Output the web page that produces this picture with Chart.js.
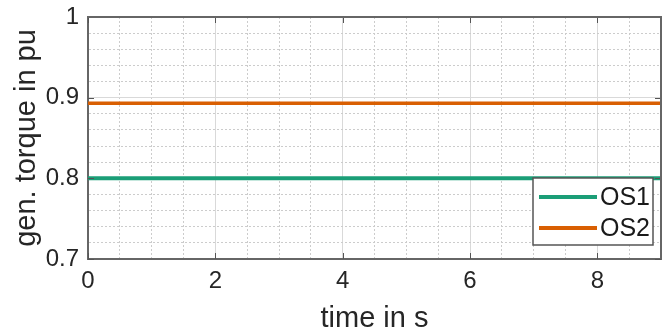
<!DOCTYPE html>
<html>
<head>
<meta charset="utf-8">
<script src="https://cdn.jsdelivr.net/npm/chart.js@4.4.1/dist/chart.umd.min.js"></script>
<style>
  html, body { margin: 0; padding: 0; background: #fff; }
  #wrap { width: 662px; height: 336px; position: relative; }
</style>
</head>
<body>
<div id="wrap"><canvas id="torque-chart" width="662" height="336"></canvas></div>
<script>
// data
const time = [0, 9];
const os1 = [0.8, 0.8];
const os2 = [0.893, 0.893];
const seriesNames = ["OS1", "OS2"];
const seriesColors = ["#1b9e77", "#d95f02"];
const xMajor = [0, 2, 4, 6, 8];
const yMajor = [0.7, 0.8, 0.9, 1];

const FONT = "'Liberation Sans', Arial, sans-serif";
const isMajorX = v => Math.abs(v / 2 - Math.round(v / 2)) < 1e-6;
const isMajorY = v => Math.abs(v * 10 - Math.round(v * 10)) < 1e-6;

// frame, inward ticks and legend box (matlab style)
const framePlugin = {
  id: "frame",
  afterDatasetsDraw(chart) {
    const { ctx, chartArea: a, scales } = chart;
    ctx.save();
    ctx.strokeStyle = "#555";
    ctx.lineWidth = 1;
    ctx.beginPath();
    xMajor.forEach(v => {
      const px = Math.round(scales.x.getPixelForValue(v)) + 0.5;
      ctx.moveTo(px, a.bottom); ctx.lineTo(px, a.bottom - 6);
      ctx.moveTo(px, a.top); ctx.lineTo(px, a.top + 6);
    });
    yMajor.forEach(v => {
      const py = Math.round(scales.y.getPixelForValue(v)) + 0.5;
      ctx.moveTo(a.left, py); ctx.lineTo(a.left + 6, py);
      ctx.moveTo(a.right, py); ctx.lineTo(a.right - 6, py);
    });
    ctx.stroke();
    ctx.strokeStyle = "#666";
    ctx.lineWidth = 2;
    ctx.beginPath();
    ctx.moveTo(a.left, a.top); ctx.lineTo(a.right, a.top); ctx.lineTo(a.right, a.bottom);
    ctx.stroke();

    // legend, lower right inside the axes
    const bx = 533, by = 178, bw = 120, bh = 67;
    ctx.fillStyle = "#fff";
    ctx.fillRect(bx, by, bw, bh);
    ctx.strokeStyle = "#555";
    ctx.lineWidth = 1.5;
    ctx.strokeRect(bx, by, bw, bh);
    ctx.font = "25px " + FONT;
    ctx.textBaseline = "middle";
    chart.data.datasets.forEach((ds, i) => {
      const y = by + 19 + i * 31;
      ctx.strokeStyle = ds.borderColor;
      ctx.lineWidth = 4;
      ctx.beginPath();
      ctx.moveTo(bx + 6, y); ctx.lineTo(bx + 64, y);
      ctx.stroke();
      ctx.fillStyle = "#1a1a1a";
      ctx.fillText(ds.label, bx + 67, y + 1);
    });
    ctx.restore();
  }
};

const ctx = document.getElementById("torque-chart").getContext("2d");
new Chart(ctx, {
  type: "line",
  data: {
    datasets: [
      {
        label: seriesNames[0],
        data: time.map((t, i) => ({ x: t, y: os1[i] })),
        borderColor: seriesColors[0],
        borderWidth: 4,
        pointRadius: 0,
        fill: false
      },
      {
        label: seriesNames[1],
        data: time.map((t, i) => ({ x: t, y: os2[i] })),
        borderColor: seriesColors[1],
        borderWidth: 3.5,
        pointRadius: 0,
        fill: false
      }
    ]
  },
  options: {
    responsive: false,
    animation: false,
    layout: { padding: { top: 17, right: 1, left: 0, bottom: 0 } },
    plugins: { legend: { display: false }, tooltip: { enabled: false } },
    scales: {
      x: {
        type: "linear",
        min: 0,
        max: 9,
        afterFit(scale) {
          scale.height = 77;
          scale.paddingLeft = 0;
          scale.paddingRight = 0;
        },
        ticks: {
          stepSize: 0.5,
          autoSkip: false,
          maxRotation: 0,
          padding: 8,
          color: "#262626",
          font: { family: FONT, size: 24 },
          callback: v => (isMajorX(v) ? String(Math.round(v)) : "")
        },
        grid: {
          drawTicks: false,
          color: c => (c.tick && isMajorX(c.tick.value) ? "#d9d9d9" : "#cccccc"),
          lineWidth: 1
        },
        border: {
          display: true,
          color: "#666",
          width: 2,
          dash: c => (c.tick && isMajorX(c.tick.value) ? [] : [2, 2])
        },
        title: {
          display: true,
          text: "time in s",
          color: "#262626",
          font: { family: FONT, size: 29 },
          padding: { top: 0, bottom: 0 }
        }
      },
      y: {
        min: 0.7,
        max: 1,
        afterFit(scale) {
          scale.width = 88;
          scale.paddingTop = 0;
          scale.paddingBottom = 0;
        },
        ticks: {
          stepSize: 0.02,
          autoSkip: false,
          padding: 9,
          color: "#262626",
          font: { family: FONT, size: 24 },
          callback: v => (isMajorY(v) ? (Math.abs(v - 1) < 1e-6 ? "1" : v.toFixed(1)) : "")
        },
        grid: {
          drawTicks: false,
          color: c => (c.tick && isMajorY(c.tick.value) ? "#d9d9d9" : "#cccccc"),
          lineWidth: 1
        },
        border: {
          display: true,
          color: "#666",
          width: 2,
          dash: c => (c.tick && isMajorY(c.tick.value) ? [] : [2, 2])
        },
        title: {
          display: true,
          text: "gen. torque in pu",
          color: "#262626",
          font: { family: FONT, size: 29 },
          padding: { top: 10, bottom: 0 }
        }
      }
    }
  },
  plugins: [framePlugin]
});
</script>
</body>
</html>
